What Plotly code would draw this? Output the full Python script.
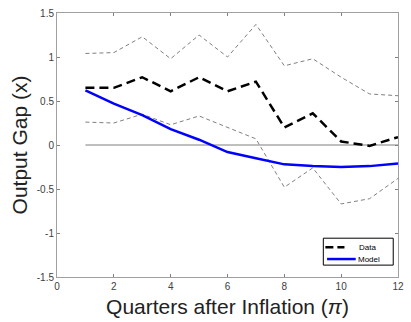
import plotly.graph_objects as go

quarters = [1, 2, 3, 4, 5, 6, 7, 8, 9, 10, 11, 12]
data_mid = [0.65, 0.65, 0.77, 0.61, 0.77, 0.61, 0.72, 0.20, 0.36, 0.04, -0.01, 0.09]
data_upper = [1.04, 1.05, 1.23, 0.98, 1.25, 1.00, 1.37, 0.90, 0.98, 0.77, 0.58, 0.56]
data_lower = [0.26, 0.25, 0.35, 0.23, 0.33, 0.20, 0.07, -0.48, -0.26, -0.67, -0.61, -0.38]
model = [0.62, 0.47, 0.34, 0.18, 0.06, -0.08, -0.15, -0.22, -0.24, -0.25, -0.24, -0.21]
zero_line = [0] * len(quarters)

x_ticks = [0, 2, 4, 6, 8, 10, 12]
y_ticks = [-1.5, -1, -0.5, 0, 0.5, 1, 1.5]
y_tick_labels = ["-1.5", "-1", "-0.5", "0", "0.5", "1", "1.5"]
legend_names = ["Data", "Model"]

fig = go.Figure()
fig.add_trace(go.Scatter(x=quarters, y=zero_line, mode="lines",
                         line=dict(color="#7f7f7f", width=1), showlegend=False, hoverinfo="skip"))
fig.add_trace(go.Scatter(x=quarters, y=data_upper, mode="lines",
                         line=dict(color="#7f7f7f", width=1, dash="4px,3px"), showlegend=False))
fig.add_trace(go.Scatter(x=quarters, y=data_lower, mode="lines",
                         line=dict(color="#7f7f7f", width=1, dash="4px,3px"), showlegend=False))
fig.add_trace(go.Scatter(x=quarters, y=data_mid, mode="lines", name=legend_names[0],
                         line=dict(color="black", width=2.5, dash="9px,5px"), showlegend=False))
fig.add_trace(go.Scatter(x=quarters, y=model, mode="lines", name=legend_names[1],
                         line=dict(color="#0000ff", width=2.5), showlegend=False))

axis_common = dict(showgrid=False, zeroline=False, showline=True, mirror="allticks",
                   linecolor="#a0a0a0", linewidth=1, ticks="inside", ticklen=3,
                   tickcolor="#808080", tickfont=dict(size=10, color="#404040"))

# Compact MATLAB-style legend box (paper coordinates)
lx0, lx1, ly0, ly1 = 0.781, 0.986, 0.045, 0.147
fig.add_shape(type="rect", xref="paper", yref="paper", x0=lx0, x1=lx1, y0=ly0, y1=ly1,
              line=dict(color="black", width=1), fillcolor="white", layer="above")
fig.add_shape(type="line", xref="paper", yref="paper", x0=0.787, x1=0.843, y0=0.113, y1=0.113,
              line=dict(color="black", width=2.5, dash="8px,4px"), layer="above")
fig.add_shape(type="line", xref="paper", yref="paper", x0=0.792, x1=0.876, y0=0.068, y1=0.068,
              line=dict(color="#0000ff", width=2.5), layer="above")
fig.add_annotation(xref="paper", yref="paper", x=0.879, y=0.113, text=legend_names[0],
                   showarrow=False, xanchor="left", yanchor="middle",
                   font=dict(size=8, color="black"))
fig.add_annotation(xref="paper", yref="paper", x=0.876, y=0.068, text=legend_names[1],
                   showarrow=False, xanchor="left", yanchor="middle",
                   font=dict(size=8, color="black"))

fig.update_layout(
    width=411, height=322,
    margin=dict(l=57, r=7, t=11, b=45),
    paper_bgcolor="white", plot_bgcolor="white",
    font=dict(family="Liberation Sans, Arial, sans-serif"),
    xaxis=dict(range=[0, 12], tickvals=x_ticks,
               title=dict(text="Quarters after Inflation (<i>π</i>)", font=dict(size=21, color="#222"), standoff=8),
               **axis_common),
    yaxis=dict(range=[-1.5, 1.5], tickvals=y_ticks, ticktext=y_tick_labels,
               title=dict(text="Output Gap (x)", font=dict(size=21, color="#222"), standoff=3),
               **axis_common),
    showlegend=False,
)

fig.write_html("out.html")
